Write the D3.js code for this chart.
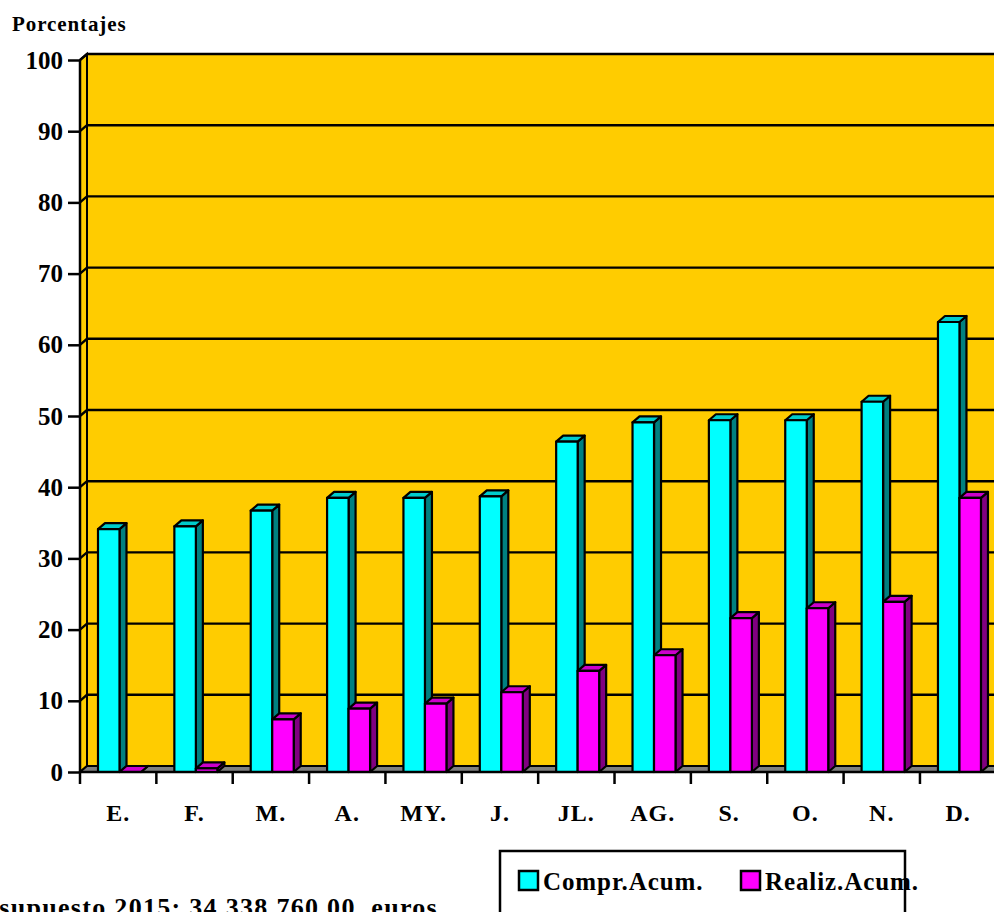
<!DOCTYPE html>
<html>
<head>
<meta charset="utf-8">
<script src="https://cdn.jsdelivr.net/npm/d3@7"></script>
<style>
  html, body { margin: 0; padding: 0; background: #fff; overflow: hidden; }
  text { font-family: "Liberation Serif", "Times New Roman", serif; font-weight: bold; }
</style>
</head>
<body>
<svg width="994" height="912"></svg>
<script>
const months = ["E.", "F.", "M.", "A.", "MY.", "J.", "JL.", "AG.", "S.", "O.", "N.", "D."];
const comprAcum = [34.1, 34.5, 36.7, 38.5, 38.5, 38.7, 46.4, 49.1, 49.4, 49.4, 52.0, 63.2];
const realizAcum = [0, 0.5, 7.4, 8.9, 9.6, 11.2, 14.2, 16.4, 21.6, 23.0, 23.9, 38.5];
const seriesNames = ["Compr.Acum.", "Realiz.Acum."];
const yTicks = [0, 10, 20, 30, 40, 50, 60, 70, 80, 90, 100];

const colors = {
  "Compr.Acum.": {front: "#00FFFF", side: "#008080", top: "#00CCCC"},
  "Realiz.Acum.": {front: "#FF00FF", side: "#800080", top: "#CC00CC"}
};

const data = months.map((m, i) => ({month: m, values: [
  {key: seriesNames[0], value: comprAcum[i]},
  {key: seriesNames[1], value: realizAcum[i]}
]}));

const dx = 7, dy = -6;   // 3d depth
const left = 80, right = 80 + 12 * 76.36;

const svg = d3.select("svg");

const x = d3.scaleBand().domain(months).range([left, right]).padding(0);
const xSub = d3.scaleBand().domain(seriesNames).range([18, 61]).padding(0);
const y = d3.scaleLinear().domain([0, 100]).range([772, 60]);

const y0 = y(0), y1 = y(100);

// back wall
svg.append("rect")
  .attr("x", left + dx).attr("y", y1 + dy)
  .attr("width", 1000).attr("height", y0 - y1)
  .attr("fill", "#FFCC00");

// left side wall
svg.append("path")
  .attr("d", `M${left},${y0}L${left},${y1}L${left + dx},${y1 + dy}L${left + dx},${y0 + dy}Z`)
  .attr("fill", "#FFCC00").attr("stroke", "#000").attr("stroke-width", 2);

// gridlines on back wall + left wall diagonals
const grid = svg.append("g").attr("stroke", "#000").attr("stroke-width", 2.4).attr("fill", "none");
grid.selectAll("path")
  .data(yTicks.filter(d => d > 0))
  .join("path")
  .attr("d", d => `M${left},${y(d)}L${left + dx},${y(d) + dy}L1000,${y(d) + dy}`);

// floor
svg.append("path")
  .attr("d", `M${left},${y0}L${left + dx},${y0 + dy}L1000,${y0 + dy}L1000,${y0}Z`)
  .attr("fill", "#808080").attr("stroke", "#000").attr("stroke-width", 2);

// bars
const groups = svg.append("g")
  .attr("stroke", "#000").attr("stroke-width", 2.2).attr("stroke-linejoin", "round")
  .selectAll("g")
  .data(data)
  .join("g")
  .attr("transform", d => `translate(${x(d.month)},0)`);

const bar = groups.selectAll("g")
  .data(d => d.values)
  .join("g");

const bw = xSub.bandwidth();

bar.append("path")   // side
  .attr("fill", d => colors[d.key].side)
  .attr("d", d => {
    const bx = xSub(d.key) + bw, by = y(d.value);
    return `M${bx},${y0}L${bx},${by}L${bx + dx},${by + dy}L${bx + dx},${y0 + dy}Z`;
  });

bar.append("path")   // top
  .attr("fill", d => colors[d.key].top)
  .attr("d", d => {
    const bx = xSub(d.key), by = y(d.value);
    return `M${bx},${by}L${bx + dx},${by + dy}L${bx + bw + dx},${by + dy}L${bx + bw},${by}Z`;
  });

bar.filter(d => d.value > 0.3).append("rect")   // front
  .attr("fill", d => colors[d.key].front)
  .attr("x", d => xSub(d.key))
  .attr("y", d => y(d.value))
  .attr("width", bw)
  .attr("height", d => y0 - y(d.value));

// axes
const yAxis = svg.append("g").attr("transform", `translate(${left},0)`)
  .call(d3.axisLeft(y).tickValues(yTicks).tickSize(12).tickPadding(5));
yAxis.select(".domain").attr("stroke-width", 2.5).attr("d", `M0,${y0}V${y1}`);
yAxis.selectAll(".tick line").attr("stroke-width", 2.5);
yAxis.selectAll(".tick text")
  .attr("font-size", 25).attr("fill", "#000")
  .attr("font-family", "Liberation Serif").attr("font-weight", "bold");

const xAxis = svg.append("g").attr("transform", `translate(0,${y0})`)
  .call(d3.axisBottom(x).tickSize(0).tickPadding(32));
xAxis.select(".domain").attr("stroke-width", 2.5).attr("d", `M${left},0H1000`);
xAxis.selectAll(".tick text")
  .attr("font-size", 24).attr("fill", "#000").attr("letter-spacing", 1)
  .attr("font-family", "Liberation Serif").attr("font-weight", "bold");

// band separator ticks
svg.append("g").attr("stroke", "#000").attr("stroke-width", 2.5)
  .selectAll("line")
  .data(months)
  .join("line")
  .attr("x1", d => x(d)).attr("x2", d => x(d))
  .attr("y1", y0).attr("y2", y0 + 12);

// y title
svg.append("text")
  .attr("x", 12).attr("y", 31)
  .attr("font-size", 21)
  .attr("letter-spacing", 0.9)
  .text("Porcentajes");

// legend
const legend = svg.append("g");
legend.append("rect")
  .attr("x", 500).attr("y", 851).attr("width", 405).attr("height", 100)
  .attr("fill", "#fff").attr("stroke", "#000").attr("stroke-width", 2.5);
const li = legend.selectAll("g")
  .data(seriesNames)
  .join("g")
  .attr("transform", (d, i) => `translate(${i === 0 ? 519 : 741},871)`);
li.append("rect")
  .attr("width", 19).attr("height", 19)
  .attr("fill", d => colors[d].front)
  .attr("stroke", "#000").attr("stroke-width", 2.5);
li.append("text")
  .attr("x", 24).attr("y", 19)
  .attr("font-size", 25)
  .attr("letter-spacing", 0.9)
  .text(d => d);

// footer
svg.append("text")
  .attr("x", 438).attr("y", 916)
  .attr("text-anchor", "end")
  .attr("font-size", 26)
  .attr("letter-spacing", 1.3)
  .attr("xml:space", "preserve")
  .text("Presupuesto 2015: 34.338.760,00  euros");
</script>
</body>
</html>
